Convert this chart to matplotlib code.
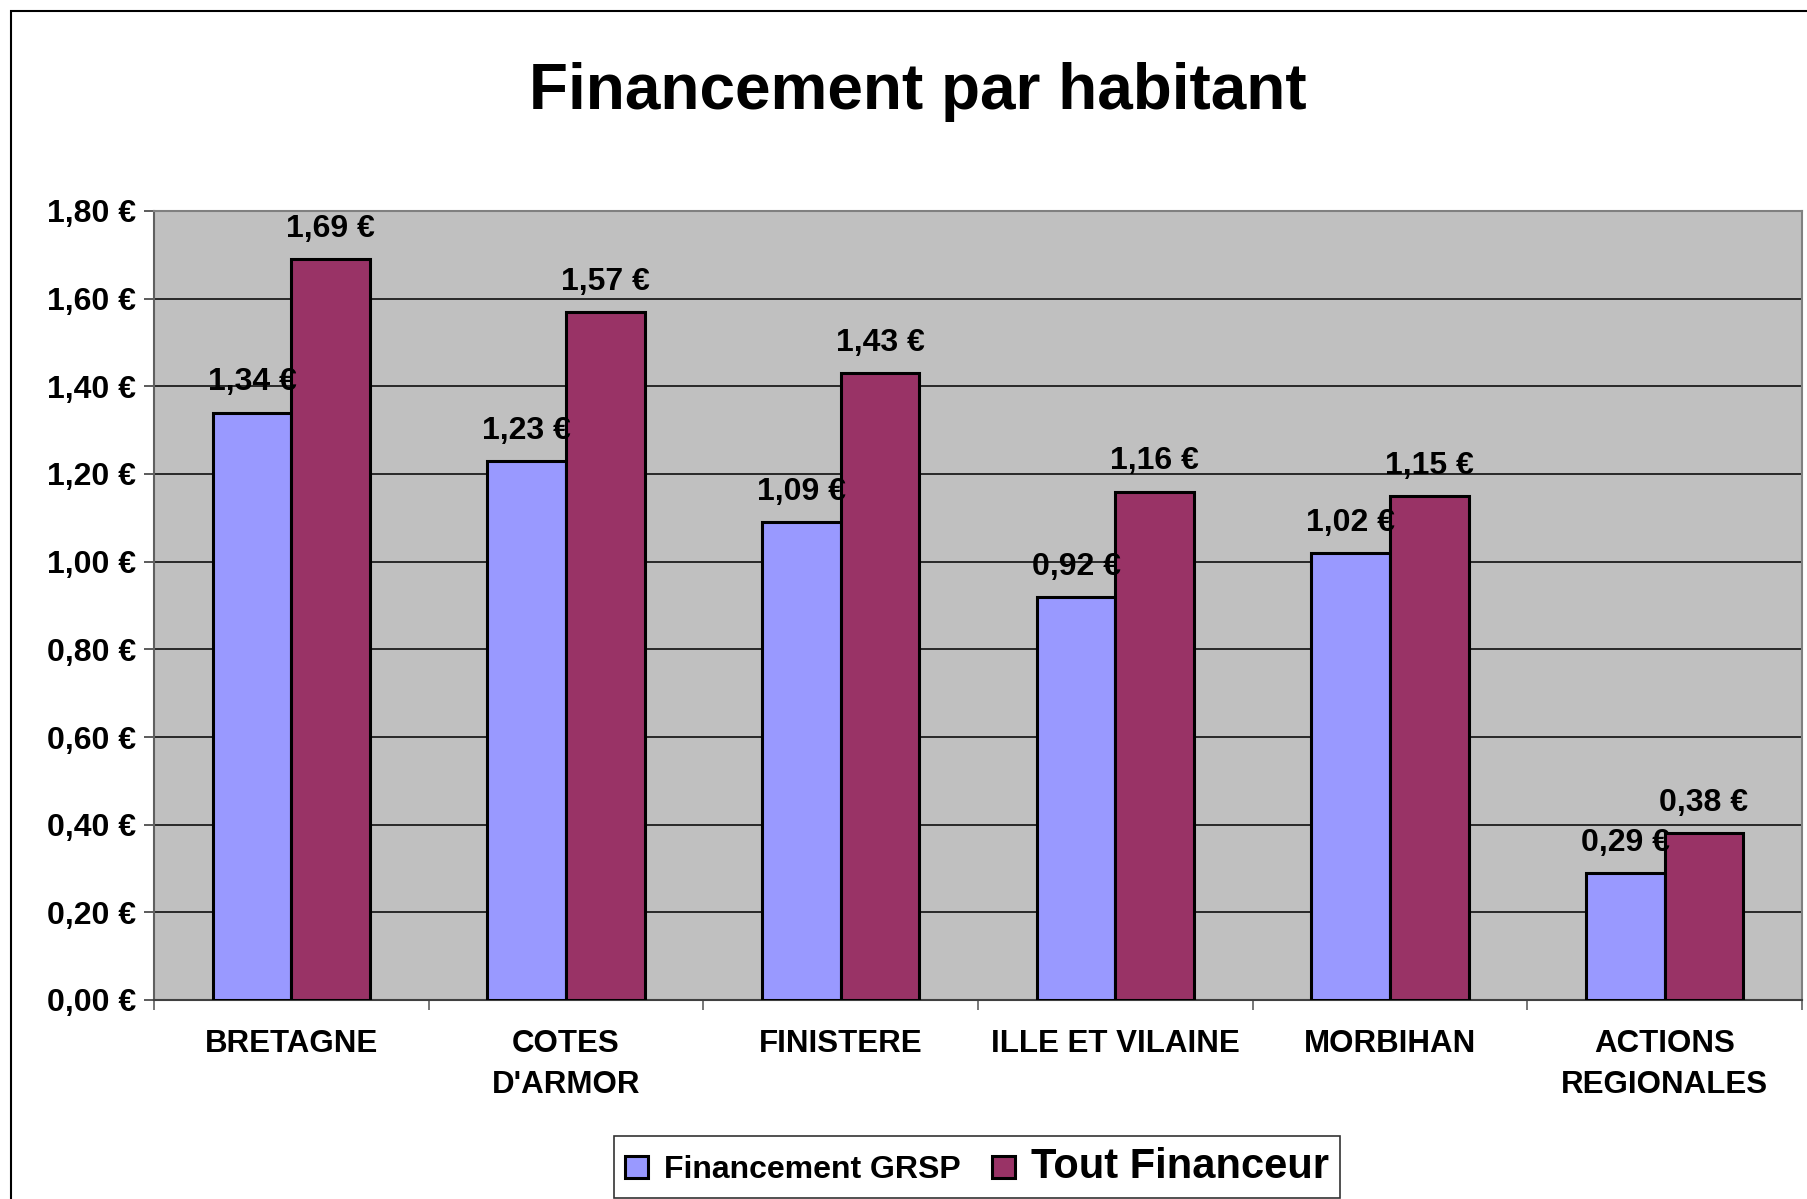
import numpy as np
import matplotlib
matplotlib.use('Agg')
from matplotlib import pyplot as plt
from matplotlib.patches import Rectangle
from matplotlib.ticker import FixedLocator

plt.rcParams['font.family'] = ['Liberation Sans', 'DejaVu Sans']
plt.rcParams['font.weight'] = 'bold'

categories = ['BRETAGNE', 'COTES\nD\'ARMOR', 'FINISTERE', 'ILLE ET VILAINE',
              'MORBIHAN', 'ACTIONS\nREGIONALES']
grsp = [1.34, 1.23, 1.09, 0.92, 1.02, 0.29]
tout = [1.69, 1.57, 1.43, 1.16, 1.15, 0.38]
series_names = ['Financement GRSP', 'Tout Financeur']
y_ticks = [0.0, 0.2, 0.4, 0.6, 0.8, 1.0, 1.2, 1.4, 1.6, 1.8]


def euro(v):
    return ('%.2f' % v).replace('.', ',') + ' €'


fig = plt.figure(figsize=(18.07, 11.99), dpi=100)
ax = fig.add_axes([154 / 1807, 1 - 1000 / 1199, 1648 / 1807, 789 / 1199])
ax.set_facecolor('#C0C0C0')

# outer chart border
fig.patches.append(Rectangle((11 / 1807, -0.01), 1.0, 1 - 11 / 1199 + 0.01,
                             transform=fig.transFigure, fill=False,
                             edgecolor='black', linewidth=1.5))

x = np.arange(len(categories))
w = 0.286
b1 = ax.bar(x - w / 2, grsp, w, color='#9999FF', edgecolor='black', linewidth=2.2, zorder=3)
b2 = ax.bar(x + w / 2, tout, w, color='#993366', edgecolor='black', linewidth=2.2, zorder=3)

for bars, vals in ((b1, grsp), (b2, tout)):
    for r, v in zip(bars, vals):
        ax.annotate(euro(v), (r.get_x() + r.get_width() / 2, v),
                    xytext=(0, 16), textcoords='offset points',
                    ha='center', va='baseline', fontsize=23, fontweight='bold',
                    zorder=5)

ax.set_xlim(-0.5, len(categories) - 0.5)
ax.set_ylim(0, 1.8)
ax.set_yticks(y_ticks)
ax.set_yticklabels([euro(v) for v in y_ticks], fontsize=23, fontweight='bold')
ax.yaxis.grid(True, color='black', linewidth=1.1, zorder=1)
ax.set_axisbelow(True)
ax.tick_params(axis='y', length=7, width=1.2, color='#404040', pad=6)

ax.set_xticks(x)
ax.set_xticklabels(categories, fontsize=22.5, fontweight='bold', linespacing=1.45)
ax.tick_params(axis='x', which='major', length=0, pad=21)
ax.xaxis.set_minor_locator(FixedLocator(np.arange(len(categories) + 1) - 0.5))
ax.tick_params(axis='x', which='minor', length=7, width=1.2, color='#606060')

for s in ('top', 'right'):
    ax.spines[s].set_color('#808080')
    ax.spines[s].set_linewidth(1.5)
ax.spines['left'].set_color('#606060')
ax.spines['bottom'].set_color('#404040')
ax.spines['left'].set_linewidth(1.5)
ax.spines['bottom'].set_linewidth(1.5)

fig.text(918 / 1807, 1 - 92 / 1199, 'Financement par habitant',
         ha='center', va='center', fontsize=46, fontweight='bold')

leg = fig.legend([b1, b2], series_names, loc='center', bbox_to_anchor=(977 / 1807, 1 - 1167 / 1199),
                 ncol=2, frameon=True, fancybox=False, edgecolor='black',
                 prop={'size': 23, 'weight': 'bold'}, handlelength=0.7, handleheight=0.7,
                 handletextpad=0.5, columnspacing=1.0, borderpad=0.35)
leg.get_frame().set_linewidth(1.2)
leg.get_texts()[1].set_fontsize(30)

fig.savefig('out.png', dpi=100)
